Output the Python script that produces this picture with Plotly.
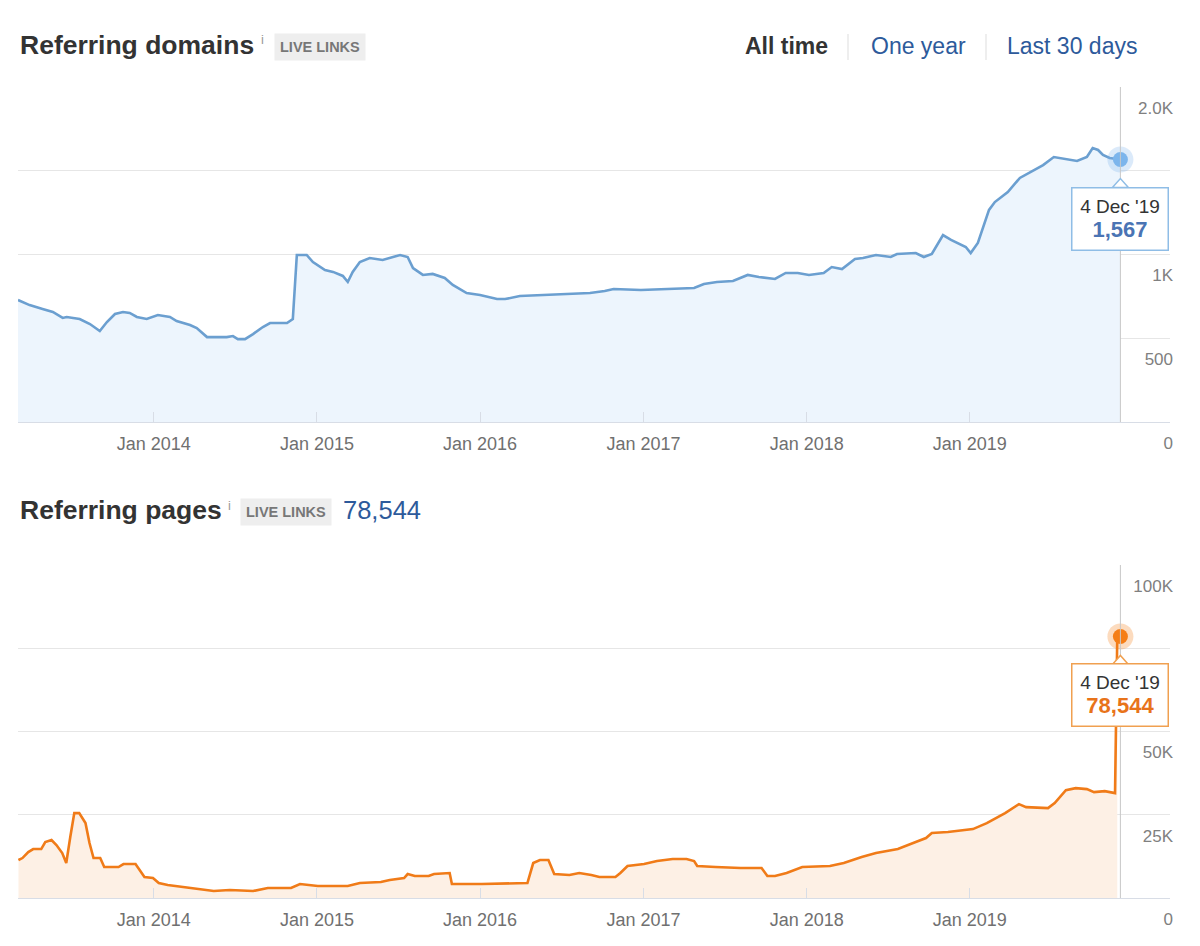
import pandas as pd
import plotly.graph_objects as go

# ---------------- data ----------------
dom_dates = ["2013-03-03","2013-03-29","2013-04-27","2013-05-20","2013-06-11","2013-06-20","2013-07-19","2013-08-11",
             "2013-09-02","2013-09-09","2013-09-18","2013-10-06","2013-10-24","2013-11-08","2013-11-24","2013-12-16",
             "2014-01-10","2014-02-06","2014-02-21","2014-03-23","2014-04-07","2014-04-30","2014-05-22","2014-06-13",
             "2014-06-27","2014-07-08","2014-07-24","2014-08-11","2014-09-02","2014-09-18","2014-10-26","2014-11-08",
             "2014-11-17","2014-12-09","2014-12-23","2015-01-19","2015-02-06","2015-02-28","2015-03-11","2015-03-22",
             "2015-04-07","2015-04-29","2015-05-28","2015-06-20","2015-07-06","2015-07-23","2015-08-04","2015-08-26",
             "2015-09-17","2015-10-14","2015-11-01","2015-12-02","2016-01-01","2016-02-08","2016-02-26","2016-03-30",
             "2016-05-14","2016-07-09","2016-09-03","2016-10-06","2016-10-26","2016-12-26","2017-03-03","2017-04-24",
             "2017-05-16","2017-06-14","2017-07-20","2017-08-22","2017-09-16","2017-10-22","2017-11-15","2017-12-12",
             "2018-01-06","2018-02-08","2018-02-26","2018-03-21","2018-04-19","2018-05-07","2018-06-05","2018-07-08",
             "2018-07-22","2018-09-02","2018-09-20","2018-10-08","2018-11-02","2018-11-20","2018-12-23","2019-01-03",
             "2019-01-19","2019-02-13","2019-02-26","2019-03-27","2019-04-23","2019-05-18","2019-06-14","2019-07-08",
             "2019-08-04","2019-08-29","2019-09-20","2019-10-03","2019-10-15","2019-10-26","2019-11-10","2019-12-04"]
dom_values = [728,698,675,657,621,627,615,585,543,567,597,645,657,651,627,615,639,627,603,579,
              561,507,507,507,513,495,495,525,567,591,591,615,997,997,955,907,896,872,836,896,
              955,979,967,985,997,985,919,878,884,860,818,770,758,734,734,752,758,764,770,782,
              794,788,794,800,824,836,842,878,866,854,890,890,878,890,925,913,973,979,997,985,
              1003,1009,985,1003,1116,1087,1045,1009,1069,1266,1313,1373,1457,1493,1534,1582,1570,1558,1582,1636,
              1624,1594,1576,1567]

page_dates = ["2013-03-04","2013-03-13","2013-03-26","2013-04-06","2013-04-24","2013-05-03","2013-05-17","2013-05-28",
              "2013-06-10","2013-06-19","2013-06-28","2013-07-07","2013-07-18","2013-08-01","2013-08-10","2013-08-19",
              "2013-09-03","2013-09-12","2013-10-14","2013-10-25","2013-11-21","2013-12-11","2013-12-30","2014-01-12",
              "2014-02-01","2014-03-09","2014-04-12","2014-05-15","2014-06-20","2014-08-11","2014-09-13","2014-11-04",
              "2014-11-24","2015-01-03","2015-03-11","2015-04-07","2015-05-24","2015-06-13","2015-07-15","2015-07-23",
              "2015-08-08","2015-09-08","2015-09-20","2015-10-25","2015-10-30","2016-01-05","2016-04-16","2016-04-29",
              "2016-05-14","2016-06-02","2016-06-15","2016-07-19","2016-08-10","2016-08-31","2016-09-06","2016-09-24",
              "2016-10-30","2016-11-10","2016-11-26","2017-01-02","2017-01-31","2017-03-07","2017-04-07","2017-04-24",
              "2017-05-01","2017-06-11","2017-08-06","2017-09-22","2017-10-05","2017-10-22","2017-11-17","2017-12-22",
              "2018-02-22","2018-03-25","2018-05-04","2018-06-05","2018-07-24","2018-09-02","2018-09-25","2018-10-08",
              "2018-11-13","2019-01-08","2019-02-08","2019-03-21","2019-04-21","2019-05-07","2019-06-25","2019-07-10",
              "2019-08-04","2019-08-26","2019-09-20","2019-10-06","2019-10-30","2019-11-22","2019-11-26","2019-11-27",
              "2019-12-04"]
page_values = [11400,12000,13800,14700,14700,16800,17400,15900,13500,10500,18300,25500,25500,22500,16500,12000,
               12000,9300,9300,10200,10200,6300,6000,4500,3900,3300,2700,2100,2400,2100,3000,3000,
               4200,3600,3600,4500,4800,5400,6000,7200,6600,6600,7200,7500,4200,4200,4500,10500,
               11400,11400,7200,6900,7500,7200,6900,6300,6300,7500,9600,10200,11100,11700,11700,11100,
               9600,9300,9000,9000,6600,6600,7500,9300,9600,10500,12300,13500,14700,16800,18000,19500,
               19800,20700,22500,25500,28200,27300,27000,28500,32400,33000,32700,31800,32100,31500,60000,
               78544]

x_range = ["2013-03-03", "2020-03-24"]
x_tickvals = ["2014-01-01", "2015-01-01", "2016-01-01", "2017-01-01", "2018-01-01", "2019-01-01"]
x_ticktext = ["Jan 2014", "Jan 2015", "Jan 2016", "Jan 2017", "Jan 2018", "Jan 2019"]
dom_tickvals = [0, 500, 1000, 1500, 2000]
dom_ticktext = ["0", "500", "1K", "", "2.0K"]          # 1.5K is hidden behind the tooltip
page_tickvals = [0, 25000, 50000, 75000, 100000]
page_ticktext = ["0", "25K", "50K", "", "100K"]        # 75K is hidden behind the tooltip
period_labels = ["All time", "One year", "Last 30 days"]

# ---------------- style ----------------
FONT = "Liberation Sans, Arial, Helvetica, sans-serif"
BLUE_LINE = "#6b9fd0"
BLUE_FILL = "#edf5fd"
BLUE_DOT = "#7cb5ec"
BLUE_TXT = "#4a74b4"
ORANGE_LINE = "#f07b18"
ORANGE_FILL = "#fdf0e5"
ORANGE_DOT = "#f57e16"
ORANGE_TXT = "#e8731a"
GRID = "#e6e6e6"

W, H = 1200, 946
ML, MR, MT, MB = 18, 30, 87, 48
PW, PH = W - ML - MR, H - MT - MB


def px_x(p):
    return (p - ML) / PW


def px_y(p):
    return (H - MB - p) / PH


top_dom = [px_y(422), 1.0]
bot_dom = [0.0, px_y(565)]

fig = go.Figure()

fig.add_trace(go.Scatter(x=dom_dates, y=dom_values, mode="lines", fill="tozeroy",
                         fillcolor=BLUE_FILL, line=dict(color=BLUE_LINE, width=2.6),
                         xaxis="x", yaxis="y", hoverinfo="skip", showlegend=False))
fig.add_trace(go.Scatter(x=[dom_dates[-1]], y=[dom_values[-1]], mode="markers",
                         marker=dict(size=26, color="rgba(124,181,236,0.28)"),
                         xaxis="x", yaxis="y", hoverinfo="skip", showlegend=False))
fig.add_trace(go.Scatter(x=[dom_dates[-1]], y=[dom_values[-1]], mode="markers",
                         marker=dict(size=15, color=BLUE_DOT),
                         xaxis="x", yaxis="y", hoverinfo="skip", showlegend=False))

fig.add_trace(go.Scatter(x=page_dates, y=page_values, mode="lines", fill="tozeroy",
                         fillcolor=ORANGE_FILL, line=dict(color=ORANGE_LINE, width=2.6),
                         xaxis="x2", yaxis="y2", hoverinfo="skip", showlegend=False))
fig.add_trace(go.Scatter(x=[page_dates[-1]], y=[page_values[-1]], mode="markers",
                         marker=dict(size=26, color="rgba(245,126,22,0.28)"),
                         xaxis="x2", yaxis="y2", hoverinfo="skip", showlegend=False))
fig.add_trace(go.Scatter(x=[page_dates[-1]], y=[page_values[-1]], mode="markers",
                         marker=dict(size=15, color=ORANGE_DOT),
                         xaxis="x2", yaxis="y2", hoverinfo="skip", showlegend=False))

xaxis_common = dict(type="date", range=x_range, tickmode="array", tickvals=x_tickvals, ticktext=x_ticktext,
                    ticks="inside", ticklen=10, tickcolor="#d8dde6", showgrid=False,
                    showline=True, linecolor="#d8dde6", linewidth=1, zeroline=False,
                    ticklabelstandoff=5,
                    tickfont=dict(family=FONT, size=18, color="#707070"), fixedrange=True)
yaxis_common = dict(side="right", ticklabelposition="inside", ticklabelshift=21, ticklabelstandoff=-6,
                    ticklabeloverflow="allow", showgrid=True, gridcolor=GRID, gridwidth=1,
                    zeroline=False, showline=False, ticks="",
                    tickfont=dict(family=FONT, size=17, color="#808080"), fixedrange=True)

fig.update_layout(
    width=W, height=H, margin=dict(l=ML, r=MR, t=MT, b=MB),
    paper_bgcolor="white", plot_bgcolor="white",
    xaxis=dict(domain=[0, 1], anchor="y", **xaxis_common),
    yaxis=dict(domain=top_dom, anchor="x", range=[0, 2000], tickmode="array", tickvals=dom_tickvals,
               ticktext=dom_ticktext, **yaxis_common),
    xaxis2=dict(domain=[0, 1], anchor="y2", **xaxis_common),
    yaxis2=dict(domain=bot_dom, anchor="x2", range=[0, 100000], tickmode="array", tickvals=page_tickvals,
                ticktext=page_ticktext, **yaxis_common),
)

shapes = []
annotations = []


def tooltip(xref, yref, date, value, border, txt_color):
    d = pd.Timestamp(date)
    label = f"{d.day} {d.strftime('%b')} '{d.strftime('%y')}"
    shapes.append(dict(type="line", xref=xref, yref=f"{yref} domain", x0=date, x1=date, y0=0, y1=1,
                       line=dict(color="#c8c8c8", width=1), layer="above"))
    annotations.append(dict(xref=xref, yref=yref, x=date, y=value, showarrow=False,
                            yanchor="top", xanchor="center", yshift=-27,
                            text=f"{label}<br><span style='font-size:22px;color:{txt_color}'><b>{value:,}</b></span>",
                            font=dict(family=FONT, size=19, color="#333333"),
                            bgcolor="white", bordercolor=border, borderwidth=1.5,
                            borderpad=2, width=91, height=57, align="center"))
    shapes.append(dict(type="path", xref=xref, yref=yref, xsizemode="pixel", ysizemode="pixel",
                       xanchor=date, yanchor=value, path="M -8,-28 L 0,-19 L 8,-28 Z",
                       fillcolor="white", line=dict(color=border, width=1.5), layer="above"))


tooltip("x", "y", dom_dates[-1], dom_values[-1], "#8fbde6", BLUE_TXT)
tooltip("x2", "y2", page_dates[-1], page_values[-1], "#f0a050", ORANGE_TXT)


def header(y_px, title, i_x, badge_cx, extra=None):
    annotations.append(dict(xref="paper", yref="paper", x=px_x(18), y=px_y(y_px), xanchor="left",
                            yanchor="middle", showarrow=False, text=f"<b>{title}</b>",
                            font=dict(family=FONT, size=26.5, color="#333333")))
    annotations.append(dict(xref="paper", yref="paper", x=px_x(i_x), y=px_y(y_px - 5), xanchor="center",
                            yanchor="middle", showarrow=False, text="i",
                            font=dict(family=FONT, size=13, color="#999999")))
    annotations.append(dict(xref="paper", yref="paper", x=px_x(badge_cx), y=px_y(y_px + 2), xanchor="center",
                            yanchor="middle", showarrow=False, text="<b>LIVE LINKS</b>",
                            font=dict(family=FONT, size=14.5, color="#777777"),
                            bgcolor="#eeeeee", borderpad=5))
    if extra:
        annotations.append(dict(xref="paper", yref="paper", x=px_x(extra[1]), y=px_y(y_px), xanchor="left",
                                yanchor="middle", showarrow=False, text=extra[0],
                                font=dict(family=FONT, size=25.5, color="#2d5a9b")))


header(45, "Referring domains", 262, 320)
header(510, "Referring pages", 229, 286, extra=(f"{page_values[-1]:,}", 341))

period_x = [786, 918, 1072]
for i, (lab, cx) in enumerate(zip(period_labels, period_x)):
    annotations.append(dict(xref="paper", yref="paper", x=px_x(cx), y=px_y(46), xanchor="center",
                            yanchor="middle", showarrow=False,
                            text=f"<b>{lab}</b>" if i == 0 else lab,
                            font=dict(family=FONT, size=23, color="#333333" if i == 0 else "#2d5a9b")))
for sx in [848, 986]:
    shapes.append(dict(type="line", xref="paper", yref="paper", x0=px_x(sx), x1=px_x(sx),
                       y0=px_y(34), y1=px_y(60), line=dict(color="#dddddd", width=1)))

fig.update_layout(shapes=shapes, annotations=annotations)
fig.write_html("out.html")
